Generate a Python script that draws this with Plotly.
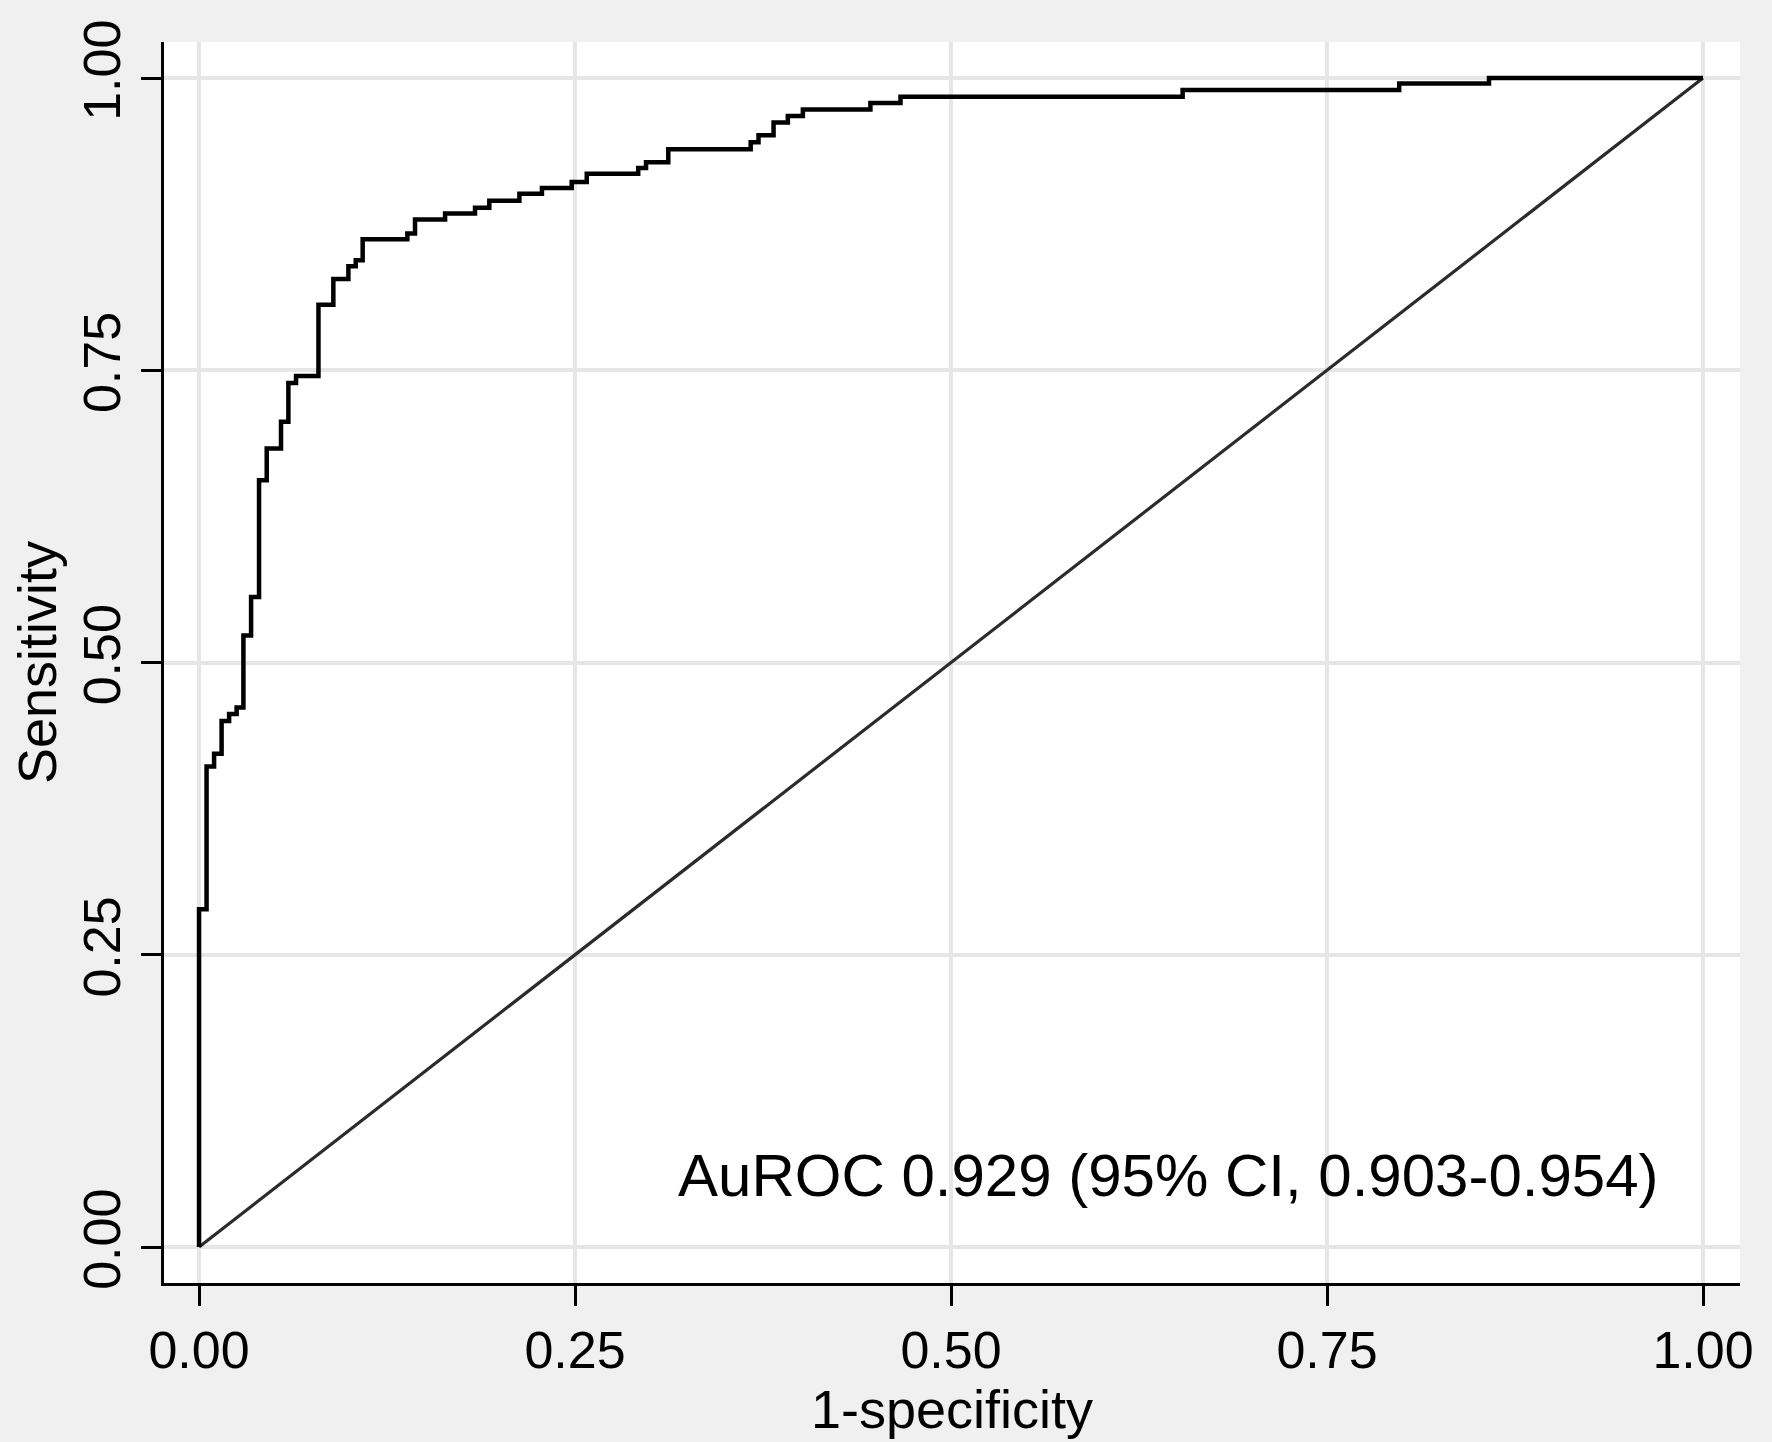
import plotly.graph_objects as go

# ROC curve corner points (1-specificity, sensitivity)
fpr = [0.0, 0.0, 0.005, 0.010, 0.015, 0.020, 0.025, 0.0295, 0.0346, 0.0399,
       0.045, 0.0545, 0.0594, 0.0645, 0.0794, 0.0893, 0.0993, 0.1042, 0.1088,
       0.1385, 0.1436, 0.1636, 0.1835, 0.193, 0.213, 0.228, 0.2478, 0.2578,
       0.292, 0.2972, 0.312, 0.3668, 0.372, 0.382, 0.3915, 0.4015, 0.4464,
       0.4664, 0.654, 0.798, 0.8577, 1.0]
sens = [0.0, 0.289, 0.411, 0.422, 0.450, 0.456, 0.4615, 0.523, 0.556, 0.656,
        0.683, 0.706, 0.739, 0.745, 0.806, 0.828, 0.839, 0.844, 0.862,
        0.867, 0.879, 0.884, 0.889, 0.895, 0.901, 0.906, 0.911, 0.918,
        0.923, 0.928, 0.939, 0.945, 0.951, 0.962, 0.9675, 0.973, 0.9786,
        0.984, 0.9897, 0.9954, 1.0, 1.0]

ref_x = [0, 1]
ref_y = [0, 1]

tick_vals = [0, 0.25, 0.5, 0.75, 1.0]
tick_text = ["0.00", "0.25", "0.50", "0.75", "1.00"]

auroc_label = "AuROC 0.929 (95% CI, 0.903-0.954)"

FONT = "Liberation Sans, Arial, sans-serif"

fig = go.Figure()

# reference diagonal
fig.add_trace(
    go.Scatter(
        x=ref_x,
        y=ref_y,
        mode="lines",
        line=dict(color="#2b2b2b", width=3.2),
        showlegend=False,
        hoverinfo="skip",
    )
)

# ROC step curve
fig.add_trace(
    go.Scatter(
        x=fpr,
        y=sens,
        mode="lines",
        line=dict(color="black", width=4.5, shape="hv"),
        showlegend=False,
    )
)

fig.add_annotation(
    x=0.6445,
    y=0.061,
    text=auroc_label,
    showarrow=False,
    xanchor="center",
    yanchor="middle",
    font=dict(size=60, color="black", family=FONT),
)

axis_common = dict(
    tickvals=tick_vals,
    ticktext=tick_text,
    showgrid=True,
    gridcolor="#e6e6e6",
    gridwidth=3.5,
    zeroline=False,
    showline=True,
    linecolor="black",
    linewidth=3,
    ticks="outside",
    ticklen=20,
    tickwidth=3,
    tickcolor="black",
    tickfont=dict(size=52, color="black", family=FONT),
)

fig.update_xaxes(
    range=[-0.0233, 1.0246],
    title=dict(text="1-specificity", font=dict(size=54, color="black", family=FONT), standoff=0),
    **axis_common,
)
fig.update_yaxes(
    range=[-0.0308, 1.0308],
    tickangle=-90,
    title=dict(text="Sensitivity", font=dict(size=54, color="black", family=FONT), standoff=0),
    **axis_common,
)

fig.update_layout(
    width=1772,
    height=1442,
    paper_bgcolor="#f0f0f0",
    plot_bgcolor="white",
    margin=dict(l=164, r=32, t=42, b=159),
    font=dict(family=FONT, color="black"),
)

fig.write_html(
    "out.html",
    config={"displayModeBar": False},
    post_script="document.body.style.margin='0';document.body.style.background='#f0f0f0';",
)
